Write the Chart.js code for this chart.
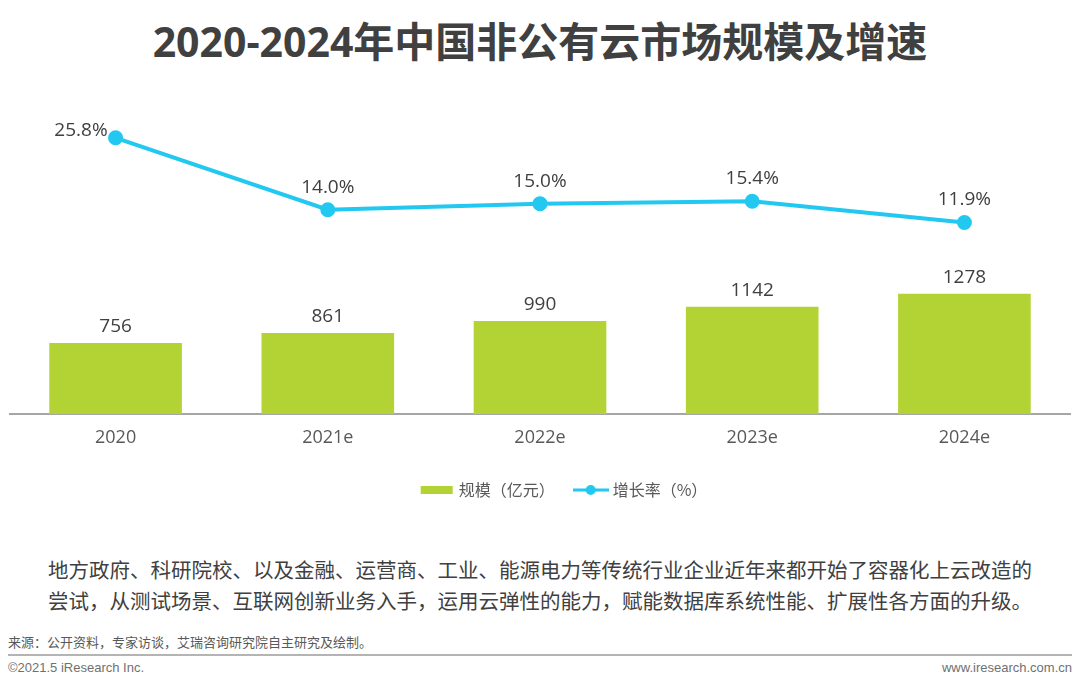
<!DOCTYPE html>
<html>
<head>
<meta charset="utf-8">
<script src="https://cdn.jsdelivr.net/npm/chart.js@4.4.0/dist/chart.umd.min.js"></script>
<style>
  html, body { margin: 0; padding: 0; background: #fff; }
  body { width: 1080px; height: 690px; position: relative; overflow: hidden;
         font-family: "Open Sans", "Noto Sans CJK SC", sans-serif; }
  #title { position: absolute; top: 9px; left: 0; width: 1080px; text-align: center;
           font-size: 41px; font-weight: bold; color: #404040; letter-spacing: 0; }
  #wrap { position: absolute; top: 90px; left: 0; width: 1080px; height: 418px; }
  #note { position: absolute; top: 554px; left: 48px; width: 1020px; font-size: 20.5px;
          line-height: 31px; color: #404040; font-family: "Noto Sans CJK SC", sans-serif; }
  #src { position: absolute; top: 632px; left: 8px; font-size: 13px; color: #595959;
         font-family: "Noto Sans CJK SC", sans-serif; }
  #rule { position: absolute; top: 654px; left: 8px; width: 1064px; height: 2px; background: #b4b4b4; }
  #copy { position: absolute; top: 660px; left: 8px; font-size: 13px; color: #707070;
          font-family: "Liberation Sans", Arial, sans-serif; }
  #web { position: absolute; top: 660px; right: 8px; font-size: 13px; color: #707070;
         font-family: "Liberation Sans", Arial, sans-serif; }
</style>
</head>
<body>
<div id="title">2020-2024年中国非公有云市场规模及增速</div>
<div id="wrap"><canvas id="canvas"></canvas></div>
<div id="note">地方政府、科研院校、以及金融、运营商、工业、能源电力等传统行业企业近年来都开始了容器化上云改造的<br>尝试，从测试场景、互联网创新业务入手，运用云弹性的能力，赋能数据库系统性能、扩展性各方面的升级。</div>
<div id="src">来源：公开资料，专家访谈，艾瑞咨询研究院自主研究及绘制。</div>
<div id="rule"></div>
<div id="copy">©2021.5 iResearch Inc.</div>
<div id="web">www.iresearch.com.cn</div>
<script>
const years = ['2020', '2021e', '2022e', '2023e', '2024e'];
const marketSize = [756, 861, 990, 1142, 1278];
const growthRate = [25.8, 14.0, 15.0, 15.4, 11.9];
const seriesNames = ['规模（亿元）', '增长率（%）'];

const green = '#b3d334';
const cyan = '#22c8f0';

// legend icons
function makeIcon(kind) {
  const c = document.createElement('canvas');
  c.width = 36; c.height = 12;
  const g = c.getContext('2d');
  if (kind === 'bar') {
    g.fillStyle = green;
    g.fillRect(2, 2, 32, 8);
  } else {
    g.strokeStyle = cyan; g.lineWidth = 3;
    g.beginPath(); g.moveTo(0, 6); g.lineTo(36, 6); g.stroke();
    g.fillStyle = cyan;
    g.beginPath(); g.arc(18, 6, 5, 0, Math.PI * 2); g.fill();
  }
  return c;
}
const icons = [makeIcon('bar'), makeIcon('line')];

const valueLabels = {
  id: 'valueLabels',
  afterDatasetsDraw(chart) {
    const ctx = chart.ctx;
    ctx.save();
    ctx.fillStyle = '#404040';
    ctx.font = '19px "Open Sans", sans-serif';
    ctx.textAlign = 'center';
    ctx.textBaseline = 'bottom';
    chart.getDatasetMeta(0).data.forEach((bar, i) => {
      ctx.fillText(String(marketSize[i]), bar.x, bar.y - 7);
    });
    chart.getDatasetMeta(1).data.forEach((pt, i) => {
      const txt = growthRate[i].toFixed(1) + '%';
      if (i === 0) {
        ctx.textAlign = 'right';
        ctx.fillText(txt, pt.x - 8, pt.y + 2);
        ctx.textAlign = 'center';
      } else {
        ctx.fillText(txt, pt.x, pt.y - 13);
      }
    });
    ctx.restore();
  }
};

// the original legend sits a little right of centre
const legendShift = {
  id: 'legendShift',
  afterLayout(chart) {
    chart.legend.left += 25;
    chart.legend.right += 25;
  }
};

const ctx = document.getElementById('canvas').getContext('2d');
new Chart(ctx, {
  data: {
    labels: years,
    datasets: [
      {
        type: 'bar',
        label: seriesNames[0],
        data: marketSize,
        backgroundColor: green,
        categoryPercentage: 1,
        barPercentage: 0.625,
        yAxisID: 'y',
        order: 2
      },
      {
        type: 'line',
        label: seriesNames[1],
        data: growthRate,
        borderColor: cyan,
        backgroundColor: cyan,
        borderWidth: 4,
        pointRadius: 5.5,
        pointHoverRadius: 5.5,
        tension: 0,
        yAxisID: 'y1',
        order: 1
      }
    ]
  },
  options: {
    responsive: true,
    maintainAspectRatio: false,
    animation: false,
    layout: { padding: { left: 8, right: 8, top: 10, bottom: 0 } },
    plugins: {
      tooltip: { enabled: false },
      legend: {
        position: 'bottom',
        labels: {
          usePointStyle: true,
          pointStyleWidth: 28,
          color: '#595959',
          font: { size: 16, family: '"Noto Sans CJK SC", sans-serif' },
          padding: 22,
          generateLabels(chart) {
            const items = Chart.defaults.plugins.legend.labels.generateLabels(chart);
            items.sort((a, b) => a.datasetIndex - b.datasetIndex);
            items.forEach(it => { it.pointStyle = icons[it.datasetIndex]; });
            return items;
          }
        }
      }
    },
    scales: {
      x: {
        grid: { display: false, drawTicks: false },
        border: { display: true, color: '#a6a6a6', width: 2 },
        ticks: { color: '#595959', font: { size: 18, family: '"Open Sans", sans-serif' }, padding: 13 },
        afterFit(scale) { scale.height = 46; }
      },
      y: {
        display: false,
        min: 0,
        max: 3340
      },
      y1: {
        display: false,
        position: 'right',
        min: -19.5,
        max: 32
      }
    }
  },
  plugins: [valueLabels, legendShift]
});
</script>
</body>
</html>
